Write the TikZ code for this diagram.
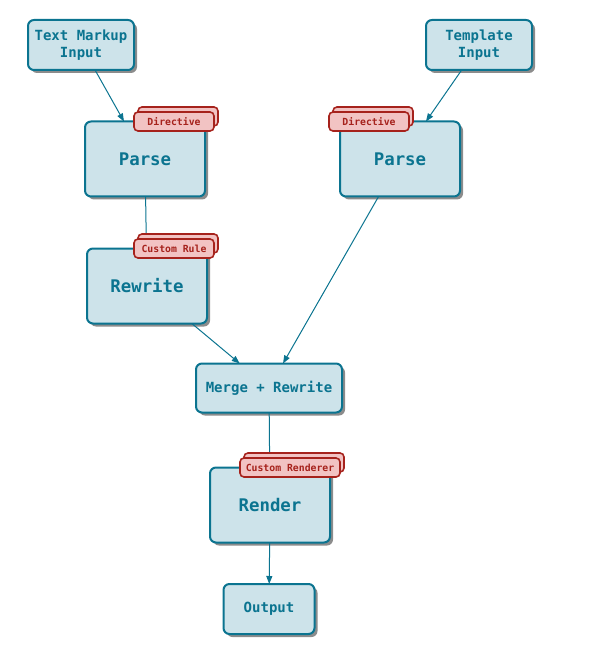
\documentclass[tikz,border=0pt]{standalone}
\usepackage{fontspec}
\setmonofont{DejaVu Sans Mono}
\usetikzlibrary{shadows,arrows.meta}
\definecolor{boxfill}{HTML}{CDE3EA}
\definecolor{boxline}{HTML}{0B7490}
\definecolor{tagfill}{HTML}{F2C3C3}
\definecolor{tagline}{HTML}{A6221C}
\begin{document}
\begin{tikzpicture}[x=1pt, y=-1pt,
  stage/.style={draw=boxline, fill=boxfill, line width=2pt, rounded corners=6pt, text=boxline,
    font=\ttfamily\bfseries, align=center, inner sep=0pt, outer sep=0pt,
    drop shadow={shadow xshift=3pt, shadow yshift=-3pt, opacity=.45, fill=black}},
  small/.style={stage, minimum height=50pt, font=\fontsize{14}{16.5}\selectfont\ttfamily\bfseries},
  big/.style={stage, minimum width=120pt, minimum height=75pt, font=\fontsize{17.4}{20}\selectfont\ttfamily\bfseries},
  tag/.style={draw=tagline, fill=tagfill, line width=1.6pt, rounded corners=4pt, text=tagline,
    minimum width=80pt, minimum height=19pt, inner sep=0pt, outer sep=0pt,
    font=\fontsize{9.8}{11}\selectfont\ttfamily\bfseries,
    copy shadow={shadow xshift=4pt, shadow yshift=5pt}},
  flow/.style={draw=boxline, line width=1pt, -{Triangle[length=8pt,width=6pt]}}]
\useasboundingbox (0,0) rectangle (600,660);

\node[small, minimum width=106pt] (markup) at (81,45) {Text Markup\\Input};
\node[small, minimum width=106pt] (template) at (479,45) {Template\\Input};
\node[big] (parseA) at (145,159) {Parse};
\node[big] (parseB) at (400,159) {Parse};
\node[big] (rewrite) at (147,286) {Rewrite};
\node[small, minimum width=146pt, minimum height=49pt] (merge) at (269,388) {Merge + Rewrite};
\node[big] (render) at (270,505) {Render};
\node[small, minimum width=91pt] (output) at (269,609) {Output};

\draw[flow] (markup) -- (parseA);
\draw[flow] (template) -- (parseB);
\draw[flow] (parseA) -- (rewrite);
\draw[flow] (rewrite) -- (merge);
\draw[flow] (parseB) -- (merge);
\draw[flow] (merge) -- (render);
\draw[flow] (render) -- (output);

\node[tag] (dirA) at (174,121.5) {Directive};
\node[tag] (dirB) at (369,121.5) {Directive};
\node[tag] (rule) at (174,248.5) {Custom Rule};
\node[tag, minimum width=100pt] (renderer) at (290,467.5) {Custom Renderer};
\end{tikzpicture}
\end{document}
